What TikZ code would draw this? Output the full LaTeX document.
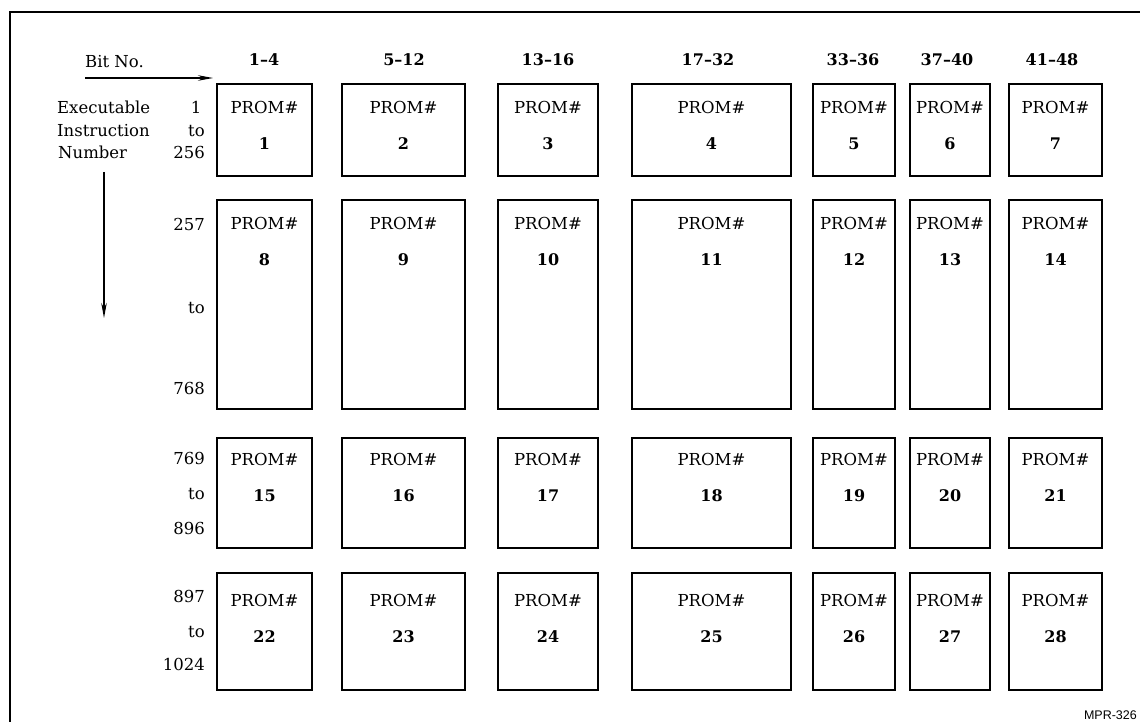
\documentclass[tikz,border=0pt]{standalone}
\usepackage{fontspec}
\setmainfont{DejaVu Serif}
\newfontfamily\tagfont{Liberation Sans}
\usetikzlibrary{fit,arrows.meta}
\tikzset{
  promframe/.style={draw, line width=1.6pt, inner sep=0pt},
  txt/.style={font=\fontsize{16.5}{19}\selectfont, inner sep=0pt, text height=12pt, text depth=0pt},
  promlbl/.style={txt},
  promnum/.style={font=\fontsize{16}{19}\selectfont\bfseries, inner sep=0pt, text height=12pt, text depth=0pt},
  colhead/.style={font=\fontsize{16}{19}\selectfont\bfseries, inner sep=0pt, text height=12pt, text depth=0pt},
  rowlbl/.style={txt, anchor=east},
  sidelbl/.style={txt, anchor=west},
  arr/.style={line width=1.3pt, -{Stealth[length=15pt,width=5.5pt]}},
  borderline/.style={line width=1.2pt}
}
\begin{document}
\begin{tikzpicture}[x=1pt,y=-1pt]
\useasboundingbox (0,0) rectangle (1140,722);
% border (open at right and bottom)
\coordinate (bl) at (10,722);
\coordinate (tl) at (10,12);
\coordinate (tr) at (1140,12);
\draw[borderline] (bl) -- (tl) -- (tr);
% boxes
\foreach \r/\ya/\yb/\off in {0/84/176/24, 1/200/409/24, 2/438/548/22, 3/573/690/28} {
  \foreach \c/\xa/\xb in {1/217/312, 2/342/465, 3/498/598, 4/632/791, 5/813/895, 6/910/990, 7/1009/1102} {
    \pgfmathtruncatemacro\n{\r*7+\c}
    \node[promframe, fit={(\xa,\ya) (\xb,\yb)}] (p\n) {};
    \node[promlbl] (t\n) at ([yshift={-\off pt}]p\n.north) {PROM\#};
    \node[promnum] (n\n) at ([yshift={-\off pt-36pt}]p\n.north) {\n};
  }
}
% column headers
\node[colhead] (h1) at (264,60) {1--4};
\node[colhead] (h2) at (404,60) {5--12};
\node[colhead] (h3) at (548,60) {13--16};
\node[colhead] (h4) at (708,60) {17--32};
\node[colhead] (h5) at (853,60) {33--36};
\node[colhead] (h6) at (947,60) {37--40};
\node[colhead] (h7) at (1052,60) {41--48};
% Bit No. arrow
\node[sidelbl] (bit) at (85,62) {Bit No.};
\coordinate (bitA) at (85,78);
\coordinate (bitB) at (213,78);
\draw[arr] (bitA) -- (bitB);
% left labels
\node[sidelbl] (ex) at (57,108) {Executable};
\node[sidelbl] (in) at (57,131) {Instruction};
\node[sidelbl] (nu) at (58,153) {Number};
\coordinate (dnA) at (104,172);
\coordinate (dnB) at (104,318);
\draw[arr] (dnA) -- (dnB);
% row labels
\node[txt] (r1a) at (196,108) {1};
\node[rowlbl] (r1b) at (205,131) {to};
\node[rowlbl] (r1c) at (205,153) {256};
\node[rowlbl] (r2a) at (205,224) {257};
\node[rowlbl] (r2b) at (205,307) {to};
\node[rowlbl] (r2c) at (205,388) {768};
\node[rowlbl] (r3a) at (205,458) {769};
\node[rowlbl] (r3b) at (205,493) {to};
\node[rowlbl] (r3c) at (205,528) {896};
\node[rowlbl] (r4a) at (205,596) {897};
\node[rowlbl] (r4b) at (205,631) {to};
\node[rowlbl] (r4c) at (205,664) {1024};
% tag
\node[font=\tagfont\fontsize{12.5}{14}\selectfont, inner sep=0pt, anchor=east] (tag) at (1137,715) {MPR-326};
\end{tikzpicture}
\end{document}
